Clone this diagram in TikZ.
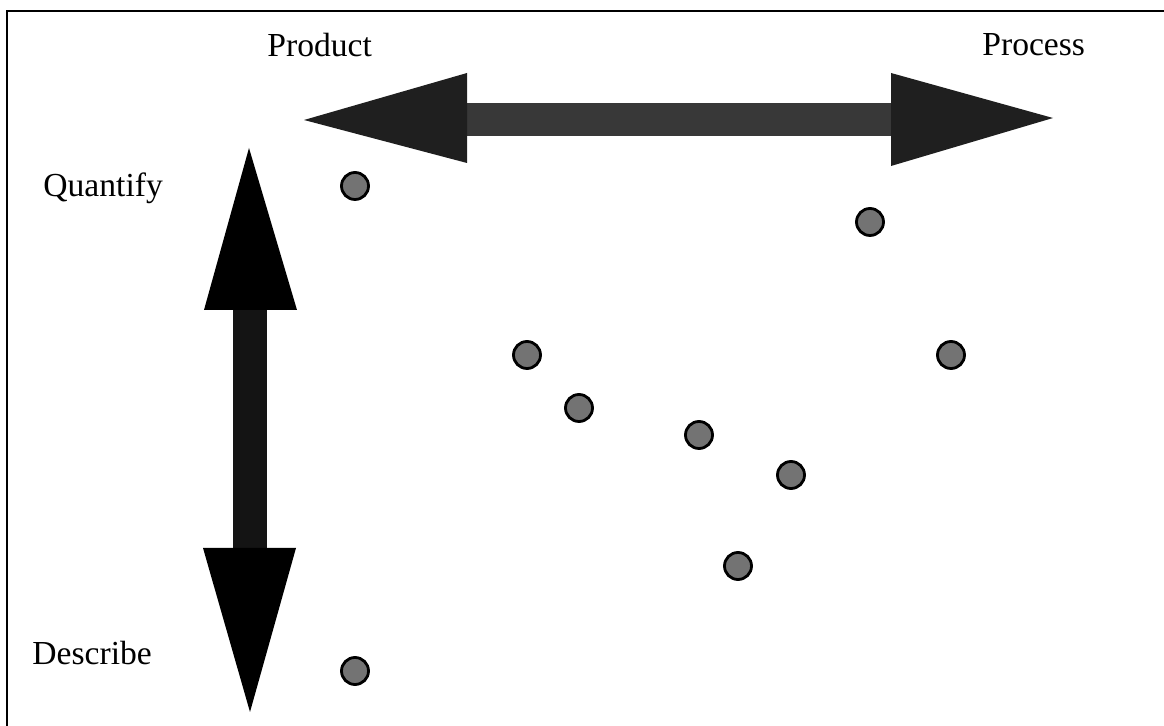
\documentclass[tikz,border=0pt]{standalone}
\usepackage{fontspec}
\setmainfont{Liberation Serif}
\begin{document}
\begin{tikzpicture}[x=0.5pt, y=-0.5pt,
        dot/.style={draw, circle, line width=1.4pt, fill=black!55, minimum size=13.5pt, inner sep=0pt},
        lbl/.style={anchor=base west, inner sep=0pt, font=\fontsize{16.8}{20}\selectfont}]
        \useasboundingbox (0,0) rectangle (1164,726);
        % Marco
        \draw[line width=1pt] (7,726) -- (7,11) -- (1164,11);

        % Ejes
        \fill[black!78] (467,103) rectangle (891,136);
        \fill[black!88] (304,120) -- (467,73) -- (467,163) -- cycle;
        \fill[black!88] (1053,118) -- (891,73) -- (891,166) -- cycle;
        \fill[black!92] (233,310) rectangle (267,548);
        \fill[black] (249,148) -- (297,310) -- (204,310) -- cycle;
        \fill[black] (250,712) -- (203,548) -- (296,548) -- cycle;

        \node[lbl] (prod) at (267,57) {Product};
        \node[lbl] (proc) at (982,56) {Process};
        \node[lbl] (quan) at (43,197) {Quantify};
        \node[lbl] (desc) at (32,665) {Describe};

        % Puntos
        \node[dot] (p1) at (355,186) {};
        \node[dot] (p2) at (870,222) {};
        \node[dot] (p3) at (527,355) {};
        \node[dot] (p4) at (951,355) {};
        \node[dot] (p5) at (579,408) {};
        \node[dot] (p6) at (699,435) {};
        \node[dot] (p7) at (791,475) {};
        \node[dot] (p8) at (738,566) {};
        \node[dot] (p9) at (355,671) {};
    \end{tikzpicture}
\end{document}
